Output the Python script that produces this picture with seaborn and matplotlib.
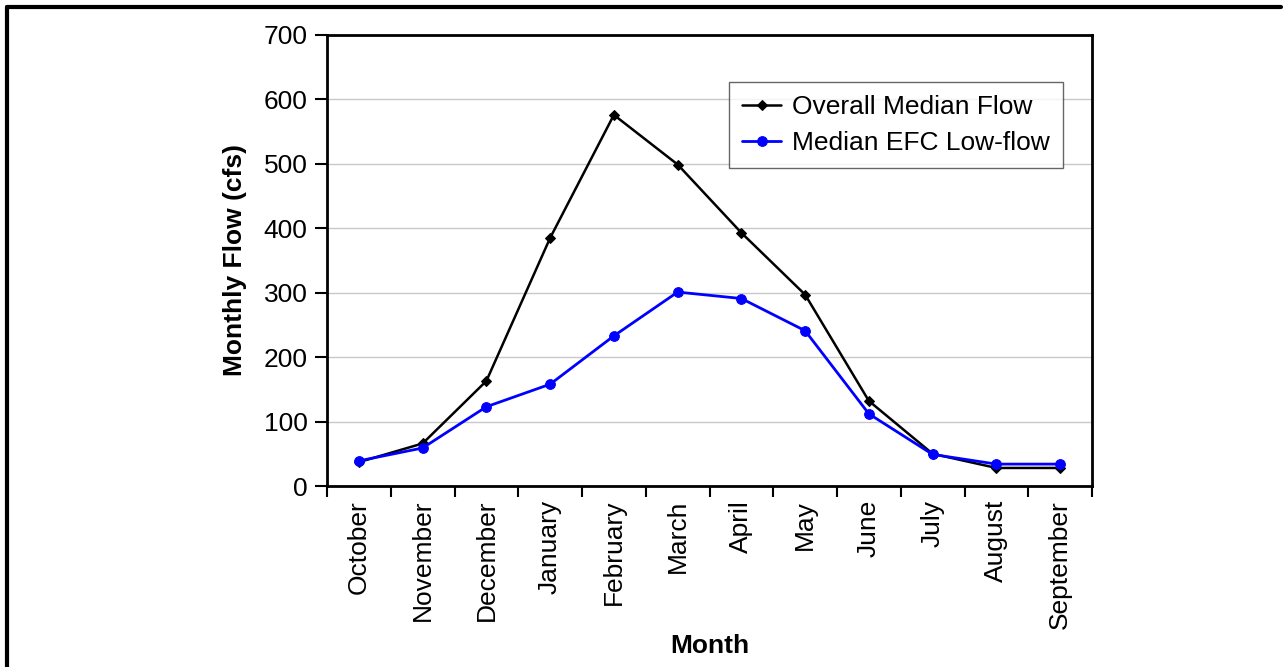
import seaborn as sns
import matplotlib.pyplot as plt
from matplotlib.lines import Line2D

# Данные графика
months = ['October', 'November', 'December', 'January', 'February', 'March',
          'April', 'May', 'June', 'July', 'August', 'September']
overall_median = [37, 66, 163, 385, 576, 499, 393, 297, 132, 50, 28, 28]
efc_low_flow = [39, 59, 123, 158, 233, 301, 291, 241, 112, 49, 34, 34]

sns.set_style('white')
plt.rcParams['font.family'] = ['Liberation Sans', 'DejaVu Sans']
plt.rcParams['text.color'] = 'black'
plt.rcParams['axes.labelcolor'] = 'black'
plt.rcParams['xtick.color'] = 'black'
plt.rcParams['ytick.color'] = 'black'

fs = 19
fig = plt.figure(figsize=(12.83, 6.67), dpi=100)
ax = fig.add_axes([327 / 1283, 1 - 486 / 667, (1092 - 327) / 1283, (486 - 35) / 667])

x = list(range(len(months)))
sns.lineplot(x=x, y=overall_median, ax=ax, color='black', marker='D', markersize=5,
             linewidth=1.8, markeredgecolor='black', label='Overall Median Flow')
sns.lineplot(x=x, y=efc_low_flow, ax=ax, color='#0000ff', marker='o', markersize=7,
             linewidth=2, markeredgecolor='#0000ff', label='Median EFC Low-flow')

ax.set_xlim(-0.5, len(months) - 0.5)
ax.set_ylim(0, 700)
ax.set_yticks(range(0, 701, 100))
ax.set_xticks(x)
ax.set_xticklabels(months, rotation=90, fontsize=fs)
ax.tick_params(axis='x', length=0, pad=10)
ax.tick_params(axis='y', labelsize=fs, length=9, width=1.5, direction='out', left=True, pad=5)
# деления между категориями
ax.set_xticks([i - 0.5 for i in range(len(months) + 1)], minor=True)
ax.tick_params(axis='x', which='minor', length=8, width=1.5, direction='out', bottom=True)
ax.grid(axis='y', color='#c8c8c8', linewidth=1)
ax.set_axisbelow(True)
for s in ax.spines.values():
    s.set_linewidth(2)
    s.set_color('black')

ax.set_xlabel('Month', fontsize=fs, fontweight='bold', labelpad=4)
ax.set_ylabel('Monthly Flow (cfs)', fontsize=fs, fontweight='bold', labelpad=12)

leg = ax.legend(loc='upper left', bbox_to_anchor=(0.525, 0.896), borderaxespad=0,
                fontsize=fs, frameon=True, fancybox=False, edgecolor='#404040',
                borderpad=0.5, handlelength=1.5, labelspacing=0.45, handletextpad=0.4)
leg.get_frame().set_linewidth(1)

# рамка вокруг рисунка
fig.add_artist(Line2D([7 / 1283, 7 / 1283], [0, 1 - 7 / 667], color='black', linewidth=3))
fig.add_artist(Line2D([7 / 1283, 1281 / 1283], [1 - 7 / 667, 1 - 7 / 667], color='black', linewidth=3))

plt.savefig('out.png', dpi=100)
plt.close()
